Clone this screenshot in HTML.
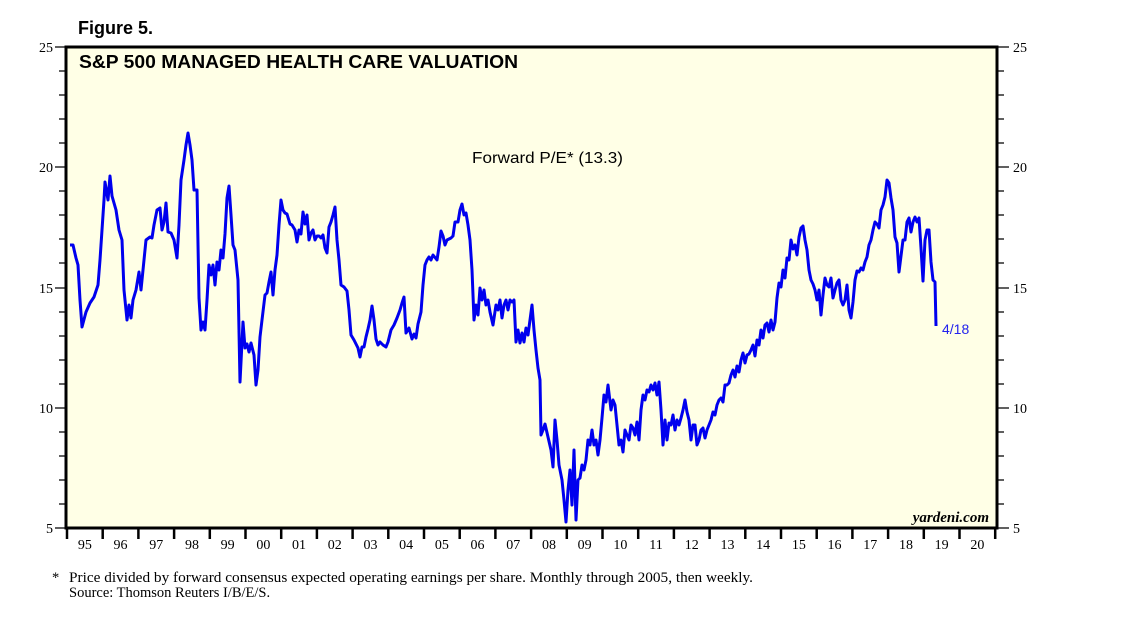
<!DOCTYPE html>
<html><head><meta charset="utf-8"><style>
body{margin:0;background:#fff;}
svg{display:block}
</style></head><body>
<svg width="1138" height="621" viewBox="0 0 1138 621" xmlns="http://www.w3.org/2000/svg">
<text x="78" y="34" font-family="Liberation Sans, sans-serif" font-weight="bold" font-size="18">Figure 5.</text>
<rect x="66" y="47" width="931" height="481" fill="#ffffe6" stroke="#000" stroke-width="3"/>
<text x="79" y="68" font-family="Liberation Sans, sans-serif" font-weight="bold" font-size="18" textLength="439" lengthAdjust="spacingAndGlyphs">S&amp;P 500 MANAGED HEALTH CARE VALUATION</text>
<g id="yt" stroke="#000" stroke-width="1.3">
<path d="M55 47H65M55 167H65M55 288H65M55 408H65M55 528H65M998 47H1009M998 167H1009M998 288H1009M998 408H1009M998 528H1009"/>
<path d="M59 71H65M59 95H65M59 119H65M59 143H65M59 191H65M59 215H65M59 239H65M59 263H65M59 312H65M59 336H65M59 360H65M59 384H65M59 432H65M59 456H65M59 480H65M59 504H65
M998 71H1004M998 95H1004M998 119H1004M998 143H1004M998 191H1004M998 215H1004M998 239H1004M998 263H1004M998 312H1004M998 336H1004M998 360H1004M998 384H1004M998 432H1004M998 456H1004M998 480H1004M998 504H1004"/>
</g>
<g font-family="Liberation Serif, serif" font-size="14">
<text x="53" y="52" text-anchor="end">25</text><text x="53" y="172" text-anchor="end">20</text><text x="53" y="293" text-anchor="end">15</text><text x="53" y="413" text-anchor="end">10</text><text x="53" y="533" text-anchor="end">5</text>
<text x="1013" y="52">25</text><text x="1013" y="172">20</text><text x="1013" y="293">15</text><text x="1013" y="413">10</text><text x="1013" y="533">5</text>
</g>
<g stroke="#000" stroke-width="2.5" id="xt"></g>
<g font-family="Liberation Serif, serif" font-size="14" text-anchor="middle" id="xl"></g>
<script>
var g=document.getElementById('xt'),l=document.getElementById('xl'),ns='http://www.w3.org/2000/svg';
for(var i=0;i<=26;i++){var x=67+i*35.7;var p=document.createElementNS(ns,'line');p.setAttribute('x1',x);p.setAttribute('x2',x);p.setAttribute('y1',528);p.setAttribute('y2',539);g.appendChild(p);
if(i<26){var t=document.createElementNS(ns,'text');t.setAttribute('x',x+17.85);t.setAttribute('y',549);t.textContent=String((95+i)%100).padStart(2,'0');l.appendChild(t);}}
</script>
<polyline fill="none" stroke="#0000ee" stroke-width="3" stroke-linejoin="round" points="70,245 73,245 76,258 78,265 80,300 82,327 86,312 90,303 94,297 98,285 100,260 102,230 104,200 105,182 108,200 110,176 112,196 116,210 119,230 122,240 124,290 127,320 129,305 131,318 133,300 136,290 139,272 141,290 144,260 146,240 150,237 152,238 154,225 157,210 160,208 162,230 164,222 166,203 168,232 171,233 174,240 177,258 179,225 181,180 184,160 186,145 188,133 190,145 192,160 194,190 197,190 199,298 201,330 203,322 205,330 207,300 209,265 211,275 213,265 215,285 217,262 219,270 221,250 223,258 225,234 227,198 229,186 231,215 233,245 235,250 238,280 240,382 243,322 245,348 247,344 249,352 251,343 254,355 256,385 258,370 260,337 262,320 265,295 267,293 269,282 271,272 273,295 275,270 277,255 279,225 281,200 283,210 285,213 287,214 290,224 292,225 295,230 297,242 299,230 301,234 303,212 305,224 307,215 309,240 311,233 313,230 315,240 317,236 319,236 321,238 323,235 325,248 327,253 329,227 331,222 333,215 335,207 337,240 339,260 341,285 344,287 347,291 349,310 351,335 354,340 356,344 358,348 360,357 362,347 364,347 366,337 368,329 370,320 372,306 374,320 376,339 378,345 380,342 383,345 386,347 388,342 391,330 394,325 397,318 400,310 402,303 404,297 406,333 409,328 412,339 414,334 416,338 418,324 421,312 423,285 425,265 427,260 429,257 431,260 433,255 437,260 439,247 441,231 443,236 445,245 447,240 451,238 453,236 455,222 458,222 460,210 462,204 464,215 466,213 468,225 470,240 472,270 474,320 476,305 478,315 480,288 482,300 484,290 486,305 488,300 490,312 493,325 496,305 498,310 500,300 502,318 504,305 506,300 508,310 510,300 512,302 514,300 516,342 518,330 520,343 522,333 524,342 526,328 528,335 530,320 532,305 534,330 536,350 538,368 540,380 541,435 543,430 545,424 548,437 551,450 553,467 555,420 557,440 559,465 562,480 564,500 566,522 568,490 570,470 572,505 574,450 576,520 578,480 580,478 582,465 584,470 586,460 588,440 590,445 592,430 594,445 596,440 598,455 600,440 602,418 604,395 606,402 608,385 611,410 613,400 615,405 617,425 619,445 621,440 623,452 625,430 627,435 629,440 631,425 633,428 635,435 637,422 639,440 641,410 643,395 645,400 647,390 649,392 651,385 653,390 655,383 657,395 659,382 661,410 663,445 665,420 667,440 669,423 671,425 673,415 675,430 677,420 679,425 681,418 683,410 685,400 687,412 689,420 691,440 693,425 695,425 697,445 699,440 701,430 703,428 705,438 707,430 709,425 711,420 713,412 715,415 717,405 719,400 721,398 723,402 725,385 727,385 729,383 731,375 733,370 735,377 737,366 739,372 741,360 743,353 745,363 747,355 749,354 751,350 753,345 755,356 757,340 759,345 761,330 763,338 765,325 767,323 769,332 771,320 773,330 775,322 777,298 779,283 781,287 783,270 785,278 787,258 789,260 791,240 793,249 795,245 797,255 799,237 801,228 803,226 805,240 807,250 809,270 811,280 813,284 815,290 817,300 819,290 821,315 823,295 825,278 827,285 829,287 831,278 833,298 835,290 837,283 839,280 841,300 843,305 845,300 847,285 849,310 851,318 853,302 855,280 857,271 859,272 861,268 863,270 865,262 867,257 869,245 871,240 873,230 875,222 877,224 879,228 881,210 883,205 885,197 887,180 889,183 891,198 893,210 895,237 897,243 899,272 901,256 903,240 905,240 907,222 909,218 911,232 913,222 915,217 917,222 919,218 921,248 923,281 925,240 927,230 929,230 931,262 933,280 935,282 936,326"/>
<text x="472" y="163" font-family="Liberation Sans, sans-serif" font-size="16" textLength="151" lengthAdjust="spacingAndGlyphs">Forward P/E* (13.3)</text>
<text x="942" y="334" font-family="Liberation Sans, sans-serif" font-size="14" fill="#2222ee">4/18</text>
<text x="989" y="522" text-anchor="end" font-family="Liberation Serif, serif" font-style="italic" font-weight="bold" font-size="15">yardeni.com</text>
<g font-family="Liberation Serif, serif" font-size="14.5">
<text x="52" y="582">*</text>
<text x="69" y="582" textLength="684" lengthAdjust="spacingAndGlyphs">Price divided by forward consensus expected operating earnings per share. Monthly through 2005, then weekly.</text>
<text x="69" y="597">Source: Thomson Reuters I/B/E/S.</text>
</g>
</svg>
</body></html>
